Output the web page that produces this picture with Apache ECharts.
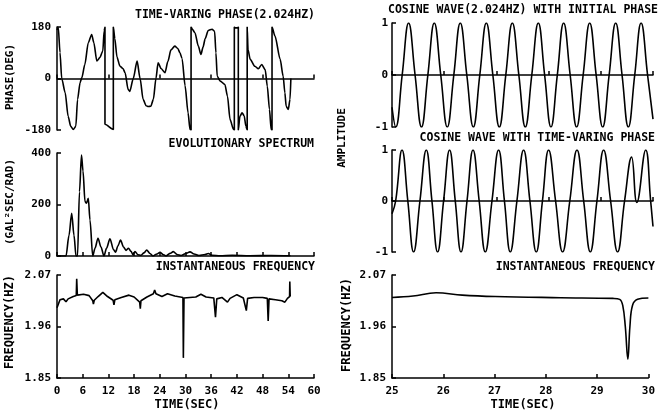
<!DOCTYPE html>
<html>
<head>
<meta charset="utf-8">
<script src="https://cdn.jsdelivr.net/npm/echarts@6/dist/echarts.min.js"></script>
<style>
html, body { margin: 0; padding: 0; background: #fff; }
#main { width: 658px; height: 420px; }
</style>
</head>
<body>
<div id="main"></div>
<script>
// 相位 (deg) vs time (sec)
var phaseTime = [0.0, 0.3, 0.7, 1.1, 1.9, 2.6, 3.2, 3.8, 4.4, 4.8, 5.4, 5.8, 6.5, 7.3, 8.1, 8.6, 9.3, 10.0, 10.7, 11.0, 11.2, 11.2, 13.15, 13.15,
    13.5, 14.0, 14.7, 15.4, 15.9, 16.6, 17.0, 17.8, 18.7, 19.4, 20.1, 20.8, 21.3, 21.9, 22.5, 23.1, 23.6, 24.3, 25.2, 25.9, 26.6, 27.5, 28.2, 28.7, 29.2, 29.9, 30.6, 31.05, 31.3, 31.3,
    31.6, 32.2, 33.0, 33.6, 34.1, 34.6, 35.3, 36.2, 36.8, 37.1, 37.4, 38.1, 39.2, 39.8, 40.4, 41.2, 41.4, 41.4, 41.6, 42.2, 42.33, 42.33,
    42.7, 43.2, 43.7, 44.1, 44.4, 44.4, 44.6, 45.1, 46.2, 47.0, 47.8, 48.6, 49.1, 49.6, 50.0, 50.2, 50.2, 50.9, 52.1, 52.8, 53.2, 53.5, 54.0, 54.4, 54.6];
var phaseDeg = [170, 178, 91, 0, -49, -132, -167, -178, -167, -73, -14, 3, 49, 125, 154, 125, 61, 73, 96, 166, 180, -160, -178, 180,
    140, 75, 43, 35, 20, -38, -45, 0, 61, 0, -73, -95, -98, -97, -73, 0, 55, 35, 20, 60, 100, 113, 105, 90, 70, -25, -120, -178, -180, 180,
    172, 160, 113, 84, 110, 140, 168, 172, 165, 90, 8, -9, -21, -62, -143, -178, -180, 180, 177, 177, 180, -180,
    -132, -120, -130, -167, -180, 180, 100, 67, 43, 34, 49, 31, -27, -108, -178, -180, 180, 148, 67, 8, -50, -97, -108, -73, 0];

// evolutionary spectrum
var specTime = [0, 2.1, 2.8, 3.43, 3.97, 4.44, 4.79, 5.25, 5.72, 6.07, 6.54, 6.89, 7.31, 7.7, 8.34, 8.87, 9.57, 10.27, 10.97, 11.56, 12.37, 13.19, 13.66, 14.24, 14.83, 15.53, 16.11, 16.69, 17.28, 17.74, 18.21, 18.91, 19.61, 20.31, 20.94, 21.71, 22.41, 23.35, 24.05, 24.75, 25.45, 26.38, 27.15, 28.02, 28.95, 30.12, 31.05, 31.99, 33.15, 34.56, 35.33, 36.19, 38.06, 40.9, 45, 50, 54.5];
var specVal = [0, 0, 80, 166, 80, 0, 0, 250, 392, 330, 211, 205, 224, 140, 0, 30, 69, 35, 0, 30, 67, 25, 15, 40, 62, 35, 22, 30, 18, 5, 17, 5, 3, 12, 23, 10, 0, 8, 14, 6, 0, 10, 17, 6, 2, 10, 16, 8, 2, 6, 10, 3, 1, 3, 1, 2, 1];

// instantaneous frequency 0-60 sec
var freqTime = [0, 0.7, 1.5, 2.1, 2.6, 3.8, 4.5, 4.6, 4.75, 6.2, 7.5, 8.35, 8.5, 8.7, 9.6, 10.7, 11.8, 13.1, 13.3, 13.5, 15, 16.8, 18, 19.3, 19.45, 19.6, 21, 22.5, 22.8, 23.1, 24.5, 25.8, 26.2, 27.5, 29.4, 29.5, 29.65,
    31, 32.4, 33.6, 34.8, 36.6, 37, 37.3, 38.5, 39.8, 40.4, 42, 42.3, 43.5, 44.2, 44.5, 46, 48, 49.1, 49.3, 49.5, 51, 52.5, 53.2, 53.8, 54.3, 54.35, 54.45];
var freqVal = [2.000, 2.017, 2.019, 2.013, 2.019, 2.024, 2.026, 2.062, 2.027, 2.029, 2.026, 2.015, 2.008, 2.016, 2.024, 2.033, 2.024, 2.016, 2.006, 2.017, 2.022, 2.027, 2.023, 2.012, 1.998, 2.015, 2.023, 2.030, 2.038, 2.030, 2.024, 2.030, 2.031, 2.025, 2.022, 1.893, 2.021,
    2.022, 2.023, 2.029, 2.023, 2.021, 1.980, 2.019, 2.022, 2.012, 2.020, 2.028, 2.030, 2.021, 1.994, 2.020, 2.022, 2.022, 2.020, 1.972, 2.019, 2.017, 2.015, 2.012, 2.020, 2.024, 2.056, 2.024];

// cosine wave (2.024Hz) with initial phase : peaks, troughs, zero crossings
var cosTime = [25.0, 25.072, 25.195, 25.318, 25.442, 25.565, 25.687, 25.81, 25.934, 26.059, 26.184, 26.308, 26.433, 26.558, 26.682, 26.807, 26.932, 27.056, 27.18, 27.305, 27.43, 27.554, 27.678, 27.803, 27.924, 28.045, 28.167, 28.288, 28.413, 28.537, 28.662, 28.787, 28.911, 29.036, 29.16, 29.285, 29.407, 29.528, 29.65, 29.772, 29.896, 30.0];
var cosVal = [-0.62, -1, 0, 1, 0, -1, 0, 1, 0, -1, 0, 1, 0, -1, 0, 1, 0, -1, 0, 1, 0, -1, 0, 1, 0, -1, 0, 1, 0, -1, 0, 1, 0, -1, 0, 1, 0, -1, 0, 1, 0, -0.85];

// cosine wave with time-varing phase
var cosVarTime = [25.0, 25.07, 25.192, 25.303, 25.414, 25.535, 25.657, 25.765, 25.874, 25.988, 26.103, 26.212, 26.322, 26.437, 26.552, 26.67, 26.787, 26.915, 27.042, 27.154, 27.266, 27.393, 27.521, 27.642, 27.764, 27.882, 28.0, 28.134, 28.268, 28.406, 28.544, 28.672, 28.799, 28.926, 29.054, 29.188, 29.322, 29.455, 29.59, 29.69, 29.86, 29.955, 30.0];
var cosVarVal = [-0.25, 0, 1, 0, -1, 0, 1, 0, -1, 0, 1, 0, -1, 0, 1, 0, -1, 0, 1, 0, -1, 0, 1, 0, -1, 0, 1, 0, -1, 0, 1, 0, -1, 0, 1, 0, -1, 0, 0.86, -0.03, 1, 0, -0.5];

// instantaneous frequency 25-30 sec
var freqZoomTime = [25.0, 25.41, 25.86, 26.37, 27.01, 28.29, 29.31, 29.44, 29.5, 29.55, 29.6, 29.64, 29.69, 29.79, 30.0];
var freqZoomVal = [2.022, 2.025, 2.032, 2.027, 2.024, 2.0215, 2.020, 2.018, 2.005, 1.96, 1.890, 1.96, 2.005, 2.018, 2.021];

var freqTicks = [1.85, 1.96, 2.07];

function pairs(ts, vs) {
    return ts.map(function (t, i) { return [t, vs[i]]; });
}

var FONT = 'DejaVu Sans Mono';
var lblStyle = { color: '#000', fontFamily: FONT, fontWeight: 'bold', fontSize: 11 };
var ttlStyle = { color: '#000', fontFamily: FONT, fontWeight: 'bold', fontSize: 11.5 };

function xAxis(grid, min, max, interval, showLabel) {
    return {
        type: 'value', gridIndex: grid, min: min, max: max, interval: interval,
        axisLine: { onZero: true, lineStyle: { color: '#000', width: 1.5 } },
        axisTick: { show: true, inside: true, length: 4, lineStyle: { color: '#000', width: 1.5 } },
        axisLabel: Object.assign({ show: showLabel, margin: 8 }, lblStyle),
        splitLine: { show: false }
    };
}
function yAxis(grid, min, max, interval, margin) {
    return {
        type: 'value', gridIndex: grid, min: min, max: max, interval: interval,
        axisLine: { onZero: false, lineStyle: { color: '#000', width: 1.5 } },
        axisTick: { show: true, inside: true, length: 4, lineStyle: { color: '#000', width: 1.5 } },
        axisLabel: Object.assign({ margin: margin }, lblStyle),
        splitLine: { show: false }
    };
}
function freqAxis(grid) {
    var a = yAxis(grid, 1.85, 2.07, null, 6);
    delete a.interval;
    a.axisLabel.customValues = freqTicks;
    a.axisLabel.formatter = function (v) { return v.toFixed(2); };
    a.axisTick.customValues = freqTicks;
    return a;
}
function line(idx, data, smooth, mono) {
    var s = {
        type: 'line', xAxisIndex: idx, yAxisIndex: idx, data: data,
        showSymbol: false, symbol: 'none', smooth: smooth,
        lineStyle: { color: '#000', width: 1.6 }
    };
    if (mono) s.smoothMonotone = 'x';
    return s;
}
function title(text, pos) {
    return Object.assign({ text: text, padding: 0, textStyle: ttlStyle }, pos);
}
function vText(text, x, y, size) {
    return {
        type: 'text', x: x, y: y, rotation: Math.PI / 2,
        style: { text: text, fill: '#000', font: 'bold ' + (size || 11) + 'px ' + FONT, align: 'center', verticalAlign: 'middle' }
    };
}

var myChart = echarts.init(document.getElementById('main'));
var option = {
    animation: false,
    backgroundColor: '#fff',
    title: [
        title('TIME-VARING PHASE(2.024HZ)', { right: 343, top: 9 }),
        title('EVOLUTIONARY SPECTRUM', { right: 344, top: 138 }),
        title('INSTANTANEOUS FREQUENCY', { right: 343, top: 261 }),
        title('COSINE WAVE(2.024HZ) WITH INITIAL PHASE', { left: 388, top: 4 }),
        title('COSINE WAVE WITH TIME-VARING PHASE', { right: 3, top: 132 }),
        title('INSTANTANEOUS FREQUENCY', { right: 3, top: 261 })
    ],
    grid: [
        { left: 57, top: 27, width: 257, height: 103 },
        { left: 57, top: 153, width: 257, height: 103 },
        { left: 57, top: 275, width: 257, height: 103 },
        { left: 392, top: 23, width: 261, height: 104 },
        { left: 392, top: 150, width: 261, height: 102 },
        { left: 392, top: 275, width: 261, height: 103 }
    ],
    xAxis: [
        xAxis(0, 0, 60, 12, false),
        xAxis(1, 0, 60, 6, false),
        xAxis(2, 0, 60, 6, true),
        xAxis(3, 25, 30, 1, false),
        xAxis(4, 25, 30, 1, false),
        xAxis(5, 25, 30, 1, true)
    ],
    yAxis: [
        yAxis(0, -180, 180, 180, 6),
        yAxis(1, 0, 400, 200, 6),
        freqAxis(2),
        yAxis(3, -1, 1, 1, 4),
        yAxis(4, -1, 1, 1, 4),
        freqAxis(5)
    ],
    series: [
        line(0, pairs(phaseTime, phaseDeg), 0.25, true),
        line(1, pairs(specTime, specVal), 0.3, true),
        line(2, pairs(freqTime, freqVal), false),
        line(3, pairs(cosTime, cosVal), 0.45),
        line(4, pairs(cosVarTime, cosVarVal), 0.45),
        line(5, pairs(freqZoomTime, freqZoomVal), 0.4)
    ],
    graphic: [
        vText('PHASE(DEG)', 10, 77),
        vText('(GAL\u00B2SEC/RAD)', 10, 202),
        vText('FREQUENCY(HZ)', 10, 322, 12),
        vText('AMPLITUDE', 342, 138),
        vText('FREQUENCY(HZ)', 347, 325, 12),
        { type: 'text', x: 187, y: 405, style: { text: 'TIME(SEC)', fill: '#000', font: 'bold 12px ' + FONT, align: 'center', verticalAlign: 'middle' } },
        { type: 'text', x: 523, y: 405, style: { text: 'TIME(SEC)', fill: '#000', font: 'bold 12px ' + FONT, align: 'center', verticalAlign: 'middle' } }
    ]
};
myChart.setOption(option);
</script>
</body>
</html>
